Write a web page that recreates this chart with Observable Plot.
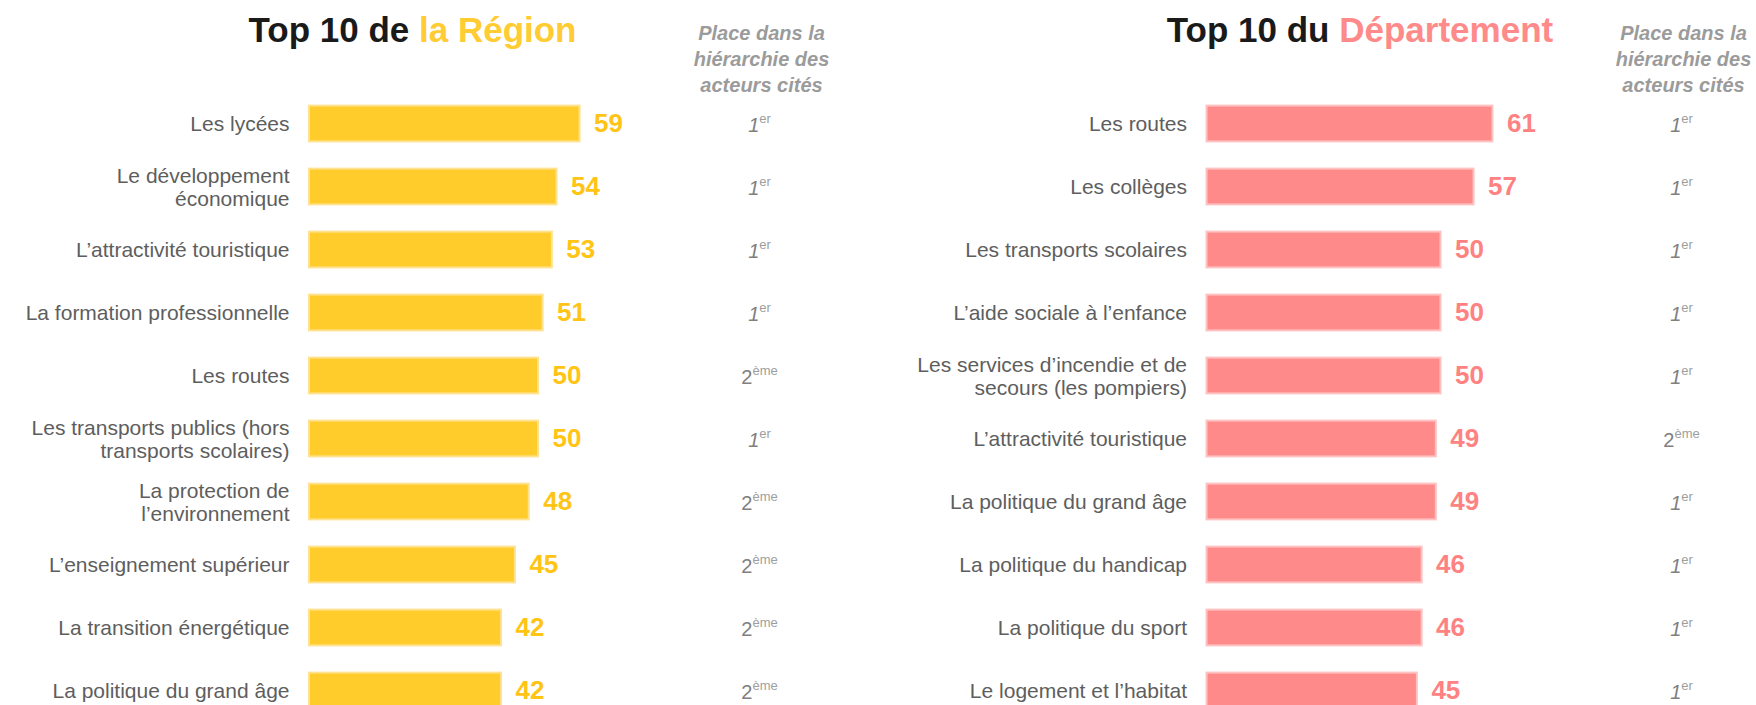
<!DOCTYPE html>
<html>
<head>
<meta charset="utf-8">
<script src="https://cdn.jsdelivr.net/npm/d3@7"></script>
<script src="https://cdn.jsdelivr.net/npm/@observablehq/plot@0.6"></script>
<style>
  html, body { margin: 0; padding: 0; background: #fff; overflow: hidden; }
  #root { position: relative; width: 1756px; height: 705px; overflow: hidden; font-family: "Liberation Sans", Arial, sans-serif; }
  .panel { position: absolute; top: 0; height: 705px; overflow: hidden; }
  .title { position: absolute; top: 10px; font-size: 35px; font-weight: bold; color: #1a1a1a; text-align: center; white-space: nowrap; line-height: 40px; }
</style>
</head>
<body>
<div id="root"></div>
<script>
// ---------- DATA ----------
const regionCategories = [
  "Les lycées",
  "Le développement\néconomique",
  "L’attractivité touristique",
  "La formation professionnelle",
  "Les routes",
  "Les transports publics (hors\ntransports scolaires)",
  "La protection de\nl’environnement",
  "L’enseignement supérieur",
  "La transition énergétique",
  "La politique du grand âge"
];
const regionValues = [59, 54, 53, 51, 50, 50, 48, 45, 42, 42];
const regionRanks = [1, 1, 1, 1, 2, 1, 2, 2, 2, 2];

const deptCategories = [
  "Les routes",
  "Les collèges",
  "Les transports scolaires",
  "L’aide sociale à l’enfance",
  "Les services d’incendie et de\nsecours (les pompiers)",
  "L’attractivité touristique",
  "La politique du grand âge",
  "La politique du handicap",
  "La politique du sport",
  "Le logement et l’habitat"
];
const deptValues = [61, 57, 50, 50, 50, 49, 49, 46, 46, 45];
const deptRanks = [1, 1, 1, 1, 1, 2, 1, 1, 1, 1];

const rankSuffix = {1: "er", 2: "ème"};
const headerText = "Place dans la\nhiérarchie des\nacteurs cités";
const titleRegion = ["Top 10 de ", "la Région"];
const titleDept = ["Top 10 du ", "Département"];

// ---------- DRAWING ----------
const FONT = "'Liberation Sans', Arial, sans-serif";
const root = document.getElementById("root");

function makePanel({cats, values, ranks, left, width, barStart, pxPerUnit, rankCenter, fill, stroke, valueFill}) {
  const data = cats.map((c, i) => ({cat: c, value: values[i], rank: ranks[i]}));
  const step = 63.0;
  const y0 = 123.5 - 0.7 * step;
  const numW = 0.556 * 20;
  const sufW = {1: 0.889 * 13, 2: 1.945 * 13};
  const junction = r => -(numW + sufW[r]) / 2 + numW;

  const rankMarks = [1, 2].flatMap(r => [
    Plot.text(data, {
      filter: d => d.rank === r, y: "cat", frameAnchor: "right",
      text: d => String(d.rank), textAnchor: "end", dx: junction(r), dy: 2,
      fontSize: 20, fill: "#808080", fontStyle: r === 1 ? "italic" : "normal"
    }),
    Plot.text(data, {
      filter: d => d.rank === r, y: "cat", frameAnchor: "right",
      text: d => rankSuffix[d.rank], textAnchor: "start", dx: junction(r), dy: -5,
      fontSize: 13, fill: "#9e9e9e"
    })
  ]);

  const svg = Plot.plot({
    width, height: 705,
    marginLeft: barStart, marginRight: width - rankCenter, marginTop: y0, marginBottom: 0,
    x: {domain: [0, 100], range: [barStart, barStart + 100 * pxPerUnit], axis: null},
    y: {domain: cats, range: [y0, y0 + 10.4 * step], padding: 0.4, round: false, axis: null},
    style: {fontFamily: FONT, overflow: "hidden", background: "#fff"},
    marks: [
      Plot.barX(data, {x: "value", y: "cat", fill, stroke, strokeWidth: 2, inset: 1}),
      Plot.text(data, {
        y: "cat", text: "cat", frameAnchor: "left", textAnchor: "end", dx: -19,
        fontSize: 21, lineHeight: 1.1, fill: "#5e5e5e"
      }),
      Plot.text(data, {
        x: "value", y: "cat", text: d => String(d.value), textAnchor: "start", dx: 13,
        fontSize: 26, fontWeight: "bold", fill: valueFill
      }),
      ...rankMarks,
      Plot.text([headerText], {
        text: d => d, frameAnchor: "top-right", textAnchor: "middle", lineAnchor: "top",
        dx: 2, dy: 21 - y0, lineHeight: 1.3, fontSize: 20, fontWeight: "bold",
        fontStyle: "italic", fill: "#9b9b9b"
      })
    ]
  });
  const div = document.createElement("div");
  div.className = "panel";
  div.style.left = left + "px";
  div.style.width = width + "px";
  div.appendChild(svg);
  root.appendChild(div);
}

function makeTitle(parts, color, left, width) {
  const t = document.createElement("div");
  t.className = "title";
  t.style.left = left + "px";
  t.style.width = width + "px";
  const a = document.createElement("span");
  a.textContent = parts[0];
  const b = document.createElement("span");
  b.textContent = parts[1];
  b.style.color = color;
  t.appendChild(a); t.appendChild(b);
  root.appendChild(t);
}

makePanel({
  cats: regionCategories, values: regionValues, ranks: regionRanks,
  left: 0, width: 878, barStart: 308, pxPerUnit: 4.62, rankCenter: 759,
  fill: "#FFCC2C", stroke: "#FFE290", valueFill: "#FFC414"
});
makePanel({
  cats: deptCategories, values: deptValues, ranks: deptRanks,
  left: 880, width: 876, barStart: 325.5, pxPerUnit: 4.72, rankCenter: 801,
  fill: "#FF8A8A", stroke: "#FFC2C2", valueFill: "#FF8282"
});
makeTitle(titleRegion, "#FFCC33", 0, 825);
makeTitle(titleDept, "#FF8A8A", 880, 960);
</script>
</body>
</html>
